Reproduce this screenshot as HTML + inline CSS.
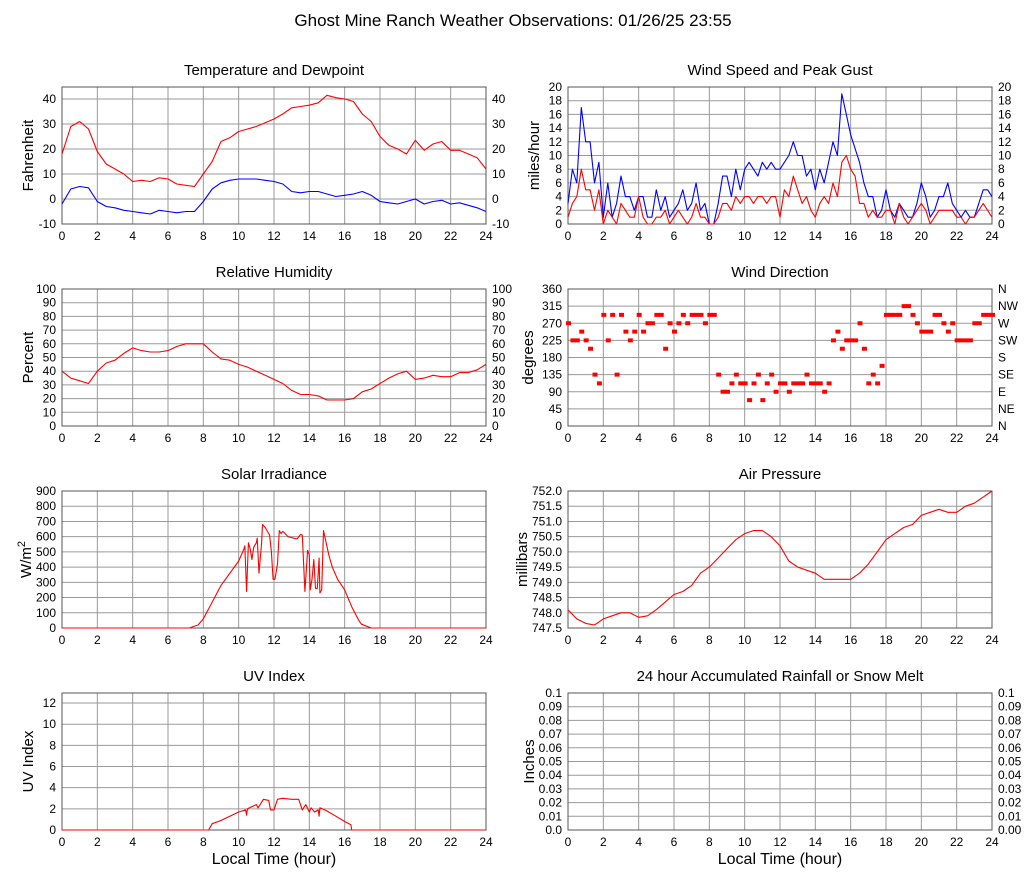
<!DOCTYPE html>
<html><head><meta charset="utf-8">
<style>
html,body{margin:0;padding:0;background:#fff;}
svg{display:block;font-family:"Liberation Sans",Arial,sans-serif;}
</style></head>
<body>
<svg id="chart" width="1027" height="878" viewBox="0 0 1027 878" xmlns="http://www.w3.org/2000/svg">
<rect x="0" y="0" width="1027" height="878" fill="#fff"/>
<text x="513" y="26" font-size="17" text-anchor="middle" fill="#000">Ghost Mine Ranch Weather Observations: 01/26/25 23:55</text>
</svg>
<script>
// ---- data ----
const halfHours = [0,0.5,1,1.5,2,2.5,3,3.5,4,4.5,5,5.5,6,6.5,7,7.5,8,8.5,9,9.5,10,10.5,11,11.5,12,12.5,13,13.5,14,14.5,15,15.5,16,16.5,17,17.5,18,18.5,19,19.5,20,20.5,21,21.5,22,22.5,23,23.5,24];
const quarterHours = [];
for (let i = 0; i <= 96; i++) quarterHours.push(i * 0.25);
const temperature = [18,29,31,28,19,14,12,10,7,7.5,7,8.5,8,6,5.5,5,10,15,23,24.5,27,28,29,30.5,32,34,36.5,37,37.5,38.5,41.5,40.5,40,39,34,31,25,21.5,20,18,23.5,19.5,22,23,19.5,19.5,18,16.5,12];
const dewpoint = [-2,4,5,4.5,-1,-3,-3.5,-4.5,-5,-5.5,-6,-4.5,-5,-5.5,-5,-5,-1,4,6.5,7.5,8,8,8,7.5,7,6,3,2.5,3,3,2,1,1.5,2,3,1.5,-1,-1.5,-2,-1,0,-2,-1,-0.5,-2,-1.5,-2.5,-3.5,-5];
const windGust = [3,8,6,17,12,12,6,9,1,6,1,3,7,4,4,2,4,4,1,1,5,2,4,1,2,3,5,2,3,6,2,3,0,0,3,7,7,4,8,5,8,9,8,7,9,8,9,8,8,9,10,12,10,10,7,8,5,8,6,9,12,10,19,16,13,11,9,6,4,4,1,2,5,2,1,3,2,1,1,3,6,4,1,2,4,4,6,3,2,1,2,1,1,3,5,5,4];
const windSpeed = [1,3,4,8,5,5,2,5,0,2,1,0,3,2,1,1,4,1,0,0,1,1,2,0,1,2,1,0,1,3,1,1,0,0,1,3,3,2,4,3,4,4,3,4,4,3,4,4,1,5,4,7,5,3,4,2,1,3,4,3,6,4,9,10,8,7,3,3,1,2,1,1,2,2,0,3,1,0,1,2,3,2,0,1,2,2,2,2,1,1,0,1,1,2,3,2,1];
const windDir = [270,225,225,248,225,203,135,112,292,225,292,135,292,248,225,248,292,248,270,270,292,292,203,270,248,270,292,270,292,292,292,270,292,292,135,90,90,112,135,112,112,68,112,135,68,112,135,90,112,112,90,112,112,112,135,112,112,112,90,112,225,248,203,225,225,225,270,203,112,135,112,158,292,292,292,292,315,315,292,270,248,248,248,292,292,270,248,270,225,225,225,225,270,270,292,292,292];
const humidity = [40,35,33,31,40,46,48,53,57,55,54,54,55,58,60,60,60,54,49,48,45,43,40,37,34,31,26,23,23,22,19,19,19,20,25,27,31,35,38,40,34,35,37,36,36,39,39,41,45];
const solarHours = [0,7.2,7.7,8,8.5,9,10,10.3,10.35,10.45,10.55,10.65,10.75,10.85,11,11.05,11.15,11.3,11.35,11.5,11.75,11.85,11.95,12.05,12.2,12.3,12.4,12.5,12.8,13.3,13.5,13.6,13.75,13.9,14.0,14.05,14.15,14.25,14.35,14.45,14.55,14.6,14.7,14.8,15.1,15.3,15.6,16,16.4,16.8,16.95,17.5,24];
const solarValues = [0,0,20,60,170,280,440,520,540,240,560,520,450,530,560,590,360,560,680,660,610,500,320,320,420,640,620,635,600,585,615,610,240,510,480,250,320,450,260,260,460,230,250,640,480,400,320,250,140,50,25,0,0];
const pressure = [748.1,747.8,747.65,747.6,747.8,747.9,748.0,748.0,747.85,747.9,748.1,748.35,748.6,748.7,748.9,749.3,749.5,749.8,750.1,750.4,750.6,750.7,750.7,750.5,750.2,749.7,749.5,749.4,749.3,749.1,749.1,749.1,749.1,749.3,749.6,750.0,750.4,750.6,750.8,750.9,751.2,751.3,751.4,751.3,751.3,751.5,751.6,751.8,752.0];
const uvHours = [0,8.3,8.5,9,9.5,10,10.4,10.45,10.5,11,11.1,11.4,11.7,11.8,12,12.2,12.5,13,13.4,13.6,13.8,14,14.1,14.3,14.5,14.55,14.6,15,15.5,16,16.35,16.4,24];
const uvValues = [0,0,0.6,0.9,1.3,1.7,1.9,1.4,2.0,2.4,2.1,2.9,2.8,1.9,1.9,2.9,3.0,2.9,2.9,1.9,2.4,1.7,2.1,1.7,1.9,1.3,2.1,1.8,1.3,0.8,0.5,0,0];
const hourTicks = [0,2,4,6,8,10,12,14,16,18,20,22,24];
const tempTicks = [-10,0,10,20,30,40];
const windTicks = [0,2,4,6,8,10,12,14,16,18,20];
const humTicks = [0,10,20,30,40,50,60,70,80,90,100];
const dirTicks = [0,45,90,135,180,225,270,315,360];
const dirNames = ['N','NE','E','SE','S','SW','W','NW','N'];
const solarTicks = [0,100,200,300,400,500,600,700,800,900];
const pressTicks = [747.5,748,748.5,749,749.5,750,750.5,751,751.5,752];
const uvTicks = [0,2,4,6,8,10,12];
const rainTicks = [0,0.01,0.02,0.03,0.04,0.05,0.06,0.07,0.08,0.09,0.1];
const rainLeftLabels = ['0.0','0.01','0.02','0.03','0.04','0.05','0.06','0.07','0.08','0.09','0.1'];
const rainRightLabels = ['0.00','0.01','0.02','0.03','0.04','0.05','0.06','0.07','0.08','0.09','0.1'];

// ---- drawing ----
const NS = 'http://www.w3.org/2000/svg';
const svg = document.getElementById('chart');
function mk(tag, attrs, parent) {
  const e = document.createElementNS(NS, tag);
  for (const k in attrs) e.setAttribute(k, attrs[k]);
  (parent || svg).appendChild(e);
  return e;
}
const W = 424, H = 137;
function panel(o) {
  const g = mk('g', {});
  
  
  const xs = t => o.x0 + t / 24 * W;
  const ys = v => o.y0 + H - (v - o.ymin) / (o.ymax - o.ymin) * H;
  hourTicks.forEach(t => {
    const l = mk('line', {x1: xs(t), x2: xs(t), y1: o.y0, y2: o.y0 + H, stroke: '#9a9a9a', 'stroke-width': 1}, g);
    
    
    const tx = mk('text', {x: xs(t), y: o.y0 + H + 16, 'font-size': 12, 'text-anchor': 'middle', fill: '#000'}, g);
    tx.textContent = t;
    
    
  });
  o.ticks.forEach((v, i) => {
    const l = mk('line', {x1: o.x0, x2: o.x0 + W, y1: ys(v), y2: ys(v), stroke: '#9a9a9a', 'stroke-width': 1}, g);
    
    
    const tx = mk('text', {x: o.x0 - 6, y: ys(v) + 4, 'font-size': 12, 'text-anchor': 'end', fill: '#000'}, g);
    tx.textContent = o.labels ? o.labels[i] : v;
    
    
    if (o.right) {
      const rx = mk('text', {x: o.x0 + W + 6, y: ys(v) + 4, 'font-size': 12, 'text-anchor': 'start', fill: '#000'}, g);
      rx.textContent = o.right[i];
      
      
    }
  });
  const fr = mk('rect', {x: o.x0, y: o.y0, width: W, height: H, fill: 'none', stroke: '#555', 'stroke-width': 1}, g);
  
  
  const ti = mk('text', {x: o.x0 + W / 2, y: o.y0 - 12, 'font-size': 15, 'text-anchor': 'middle', fill: '#000'}, g);
  ti.textContent = o.title;
  
  
  const yt = mk('text', {x: 0, y: 0, 'font-size': 15, 'text-anchor': 'middle', fill: '#000', transform: `translate(${o.ylx},${o.y0 + H / 2}) rotate(-90)`}, g);
  if (o.ylabelHtml) { yt.innerHTML = o.ylabelHtml; } else { yt.textContent = o.ylabel; }
  
  
  if (o.xlabel) {
    const xt = mk('text', {x: o.x0 + W / 2, y: o.y0 + H + 34, 'font-size': 16, 'text-anchor': 'middle', fill: '#000'}, g);
    xt.textContent = 'Local Time (hour)';
    
    
  }
  return {g, xs, ys};
}
function line(p, hours, vals, color, name) {
  const d = hours.map((t, i) => (i ? 'L' : 'M') + p.xs(t).toFixed(1) + ',' + p.ys(vals[i]).toFixed(1)).join('');
  const e = mk('path', {d, fill: 'none', stroke: color, 'stroke-width': 1.1, 'stroke-linejoin': 'round'}, p.g);
  
  
}

const LX = 62, RX = 568, R1 = 87, R2 = 289, R3 = 491, R4 = 693;

const pT = panel({name: 'temperature', x0: LX, y0: R1, ymin: -10, ymax: 44.8, ticks: tempTicks, right: tempTicks, title: 'Temperature and Dewpoint', ylabel: 'Fahrenheit', ylx: 33});
line(pT, halfHours, dewpoint, '#0000ff', 'dewpoint-line');
line(pT, halfHours, temperature, '#ff0000', 'temperature-line');

const pW = panel({name: 'wind', x0: RX, y0: R1, ymin: 0, ymax: 20, ticks: windTicks, right: windTicks, title: 'Wind Speed and Peak Gust', ylabel: 'miles/hour', ylx: 539});
line(pW, quarterHours, windGust, '#0000ff', 'peak-gust-line');
line(pW, quarterHours, windSpeed, '#ff0000', 'wind-speed-line');

const pH = panel({name: 'humidity', x0: LX, y0: R2, ymin: 0, ymax: 100, ticks: humTicks, right: humTicks, title: 'Relative Humidity', ylabel: 'Percent', ylx: 33});
line(pH, halfHours, humidity, '#ff0000', 'humidity-line');

const pD = panel({name: 'wind-direction', x0: RX, y0: R2, ymin: 0, ymax: 360, ticks: dirTicks, right: dirNames, title: 'Wind Direction', ylabel: 'degrees', ylx: 533});
quarterHours.forEach((t, i) => {
  const r = mk('rect', {x: pD.xs(t) - 2, y: pD.ys(windDir[i]) - 2, width: 5, height: 4, fill: '#ff0000'}, pD.g);
  
  
});

const pS = panel({name: 'solar', x0: LX, y0: R3, ymin: 0, ymax: 900, ticks: solarTicks, title: 'Solar Irradiance', ylabelHtml: 'W/m<tspan dy="-6" font-size="11">2</tspan>', ylx: 31});
line(pS, solarHours, solarValues, '#ff0000', 'solar-line');

const pP = panel({name: 'pressure', x0: RX, y0: R3, ymin: 747.5, ymax: 752, ticks: pressTicks, labels: pressTicks.map(v => v.toFixed(1)), title: 'Air Pressure', ylabel: 'millibars', ylx: 527});
line(pP, halfHours, pressure, '#ff0000', 'pressure-line');

const pU = panel({name: 'uv', x0: LX, y0: R4, ymin: 0, ymax: 12.95, ticks: uvTicks, title: 'UV Index', ylabel: 'UV Index', xlabel: true, ylx: 33});
line(pU, uvHours, uvValues, '#ff0000', 'uv-line');

const pR = panel({name: 'rainfall', x0: RX, y0: R4, ymin: 0, ymax: 0.1, ticks: rainTicks, labels: rainLeftLabels, right: rainRightLabels, title: '24 hour Accumulated Rainfall or Snow Melt', ylabel: 'Inches', xlabel: true, ylx: 534});
</script>
</body></html>
